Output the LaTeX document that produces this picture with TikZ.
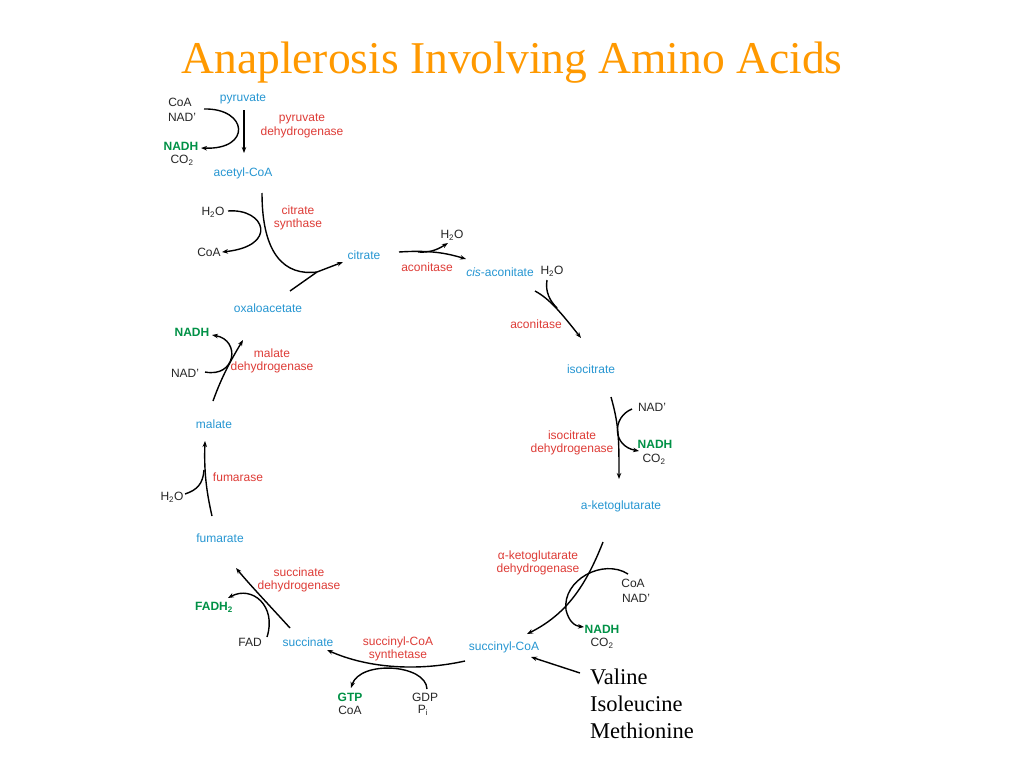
\documentclass[tikz,border=0pt]{standalone}
\usepackage{fontspec}
\setmainfont{Liberation Sans}
\newfontfamily\serifA{Liberation Serif}
\usetikzlibrary{arrows.meta}
\definecolor{metab}{RGB}{38,150,210}
\definecolor{enz}{RGB}{222,60,55}
\definecolor{cofg}{RGB}{0,145,70}
\definecolor{ttl}{RGB}{255,153,0}
\begin{document}
\begin{tikzpicture}[x=1pt,y=-1pt,
 lbl/.style={font=\fontsize{12}{13.5}\selectfont, inner sep=0pt, align=center},
 met/.style={lbl, text=metab},
 enzl/.style={lbl, text=enz},
 cof/.style={lbl, text=black!85},
 cofb/.style={lbl, text=cofg, font=\fontsize{12}{13.5}\selectfont\bfseries},
 rx/.style={line width=1.4pt, -{Stealth[length=6pt,width=4.5pt]}},
 rl/.style={line width=1.4pt}]
\useasboundingbox[fill=white] (0,0) rectangle (1024,768);

% title
\node[text=ttl, font=\serifA\fontsize{45.5}{48}\selectfont, inner sep=0pt] (title) at (512,63) {Anaplerosis Involving Amino Acids};

% metabolites
\node[met] (pyr) at (243,99) {pyruvate};
\node[met] (acoa) at (243,173) {acetyl-CoA};
\node[met] (cit) at (364,255) {citrate};
\node[met] (oaa) at (268,308) {oxaloacetate};
\node[met] (cisac) at (500,272) {\textit{cis}-aconitate};
\node[met] (isocit) at (591,369) {isocitrate};
\node[met] (akg) at (621,506) {a-ketoglutarate};
\node[met] (sucoa) at (504,647) {succinyl-CoA};
\node[met] (succ) at (308,642) {succinate};
\node[met] (fum) at (220,538) {fumarate};
\node[met] (mal) at (214,424) {malate};

% enzymes
\node[enzl] (pdh) at (302,126) {pyruvate\\dehydrogenase};
\node[enzl] (cs) at (298,218) {citrate\\synthase};
\node[enzl] (acon1) at (427,267) {aconitase};
\node[enzl] (acon2) at (536,324) {aconitase};
\node[enzl] (icdh) at (572,443) {isocitrate\\dehydrogenase};
\node[enzl] (akgdh) at (538,563) {α-ketoglutarate\\dehydrogenase};
\node[enzl] (scs) at (398,649) {succinyl-CoA\\synthetase};
\node[enzl] (sdh) at (299,580) {succinate\\dehydrogenase};
\node[enzl] (fumase) at (238,477) {fumarase};
\node[enzl] (mdh) at (272,361) {malate\\dehydrogenase};

% cofactors
\node[cof] (coa1) at (180,102) {CoA};
\node[cof] (nad1) at (182,117) {NAD'};
\node[cofb] (nadh1) at (181,146) {NADH};
\node[cof] (co21) at (182,160) {CO\textsubscript{2}};
\node[cof] (h2o1) at (213,212) {H\textsubscript{2}O};
\node[cof] (coa2) at (209,252) {CoA};
\node[cof] (h2o2) at (452,235) {H\textsubscript{2}O};
\node[cof] (h2o3) at (552,271) {H\textsubscript{2}O};
\node[cof] (nad2) at (652,407) {NAD'};
\node[cofb] (nadh2) at (655,444) {NADH};
\node[cof] (co22) at (654,459) {CO\textsubscript{2}};
\node[cof] (coa3) at (633,583) {CoA};
\node[cof] (nad3) at (636,598) {NAD'};
\node[cofb] (nadh3) at (602,629) {NADH};
\node[cof] (co23) at (602,643) {CO\textsubscript{2}};
\node[cofb] (gtp) at (350,697) {GTP};
\node[cof] (coa4) at (350,710) {CoA};
\node[cof] (gdp) at (425,697) {GDP};
\node[cof] (pi) at (423,710) {P\textsubscript{i}};
\node[cof] (fad) at (250,642) {FAD};
\node[cofb] (fadh) at (214,607) {FADH\textsubscript{2}};
\node[cof] (h2o4) at (172,497) {H\textsubscript{2}O};
\node[cof] (nad4) at (185,373) {NAD'};
\node[cofb] (nadh4) at (192,332) {NADH};

% amino acids
\node[font=\serifA\fontsize{22.5}{27}\selectfont, inner sep=0pt, align=left, anchor=west] (aa) at (590,704) {Valine\\Isoleucine\\Methionine};

% ---- connectors ----
% pyruvate dehydrogenase
\coordinate (pA) at (244,110); \coordinate (pB) at (244,153);
\draw[rx] (pA) -- (pB);
\coordinate (pC) at (204,109); \coordinate (pD) at (201,148);
\draw[rx] (pC) .. controls (248,108) and (252,150) .. (pD);

% citrate synthase
\coordinate (cA) at (262,193); \coordinate (cM) at (317,272); \coordinate (cB) at (343,262);
\coordinate (cO) at (290,291);
\draw[rx] (cA) .. controls (262,255) and (285,276) .. (cM) -- (cB);
\draw[rl] (cO) -- (cM);
\coordinate (cH) at (228,211); \coordinate (cC) at (222,252);
\draw[rx] (cH) .. controls (265,208) and (279,246) .. (cC);

% aconitase 1
\coordinate (a1A) at (399,252); \coordinate (a1B) at (466,259);
\coordinate (a1C) at (418,252); \coordinate (a1D) at (448,243);
\draw[rx] (a1A) .. controls (430,250) and (446,253) .. (a1B);
\draw[rx] (a1C) .. controls (432,253) and (440,248) .. (a1D);

% aconitase 2
\coordinate (a2A) at (535,291); \coordinate (a2B) at (581,338);
\coordinate (a2H) at (547,280); \coordinate (a2M) at (557,308);
\draw[rx] (a2A) .. controls (550,299) and (562,314) .. (a2B);
\draw[rl] (a2H) .. controls (545,292) and (550,301) .. (a2M);

% isocitrate dehydrogenase
\coordinate (iA) at (611,397); \coordinate (iB) at (619,479);
\draw[rx] (iA) .. controls (619,425) and (619,440) .. (iB);
\coordinate (iN) at (632,409); \coordinate (iD) at (639,451);
\draw[rx] (iN) .. controls (612,417) and (612,446) .. (iD);

% alpha-ketoglutarate dehydrogenase
\coordinate (kA) at (603,542); \coordinate (kB) at (527,634);
\draw[rx] (kA) .. controls (585,588) and (565,615) .. (kB);
\coordinate (kC) at (628,574); \coordinate (kK) at (566,610); \coordinate (kD) at (584,627);
\draw[rx] (kC) .. controls (603,558) and (562,580) .. (kK) .. controls (569,622) and (575,626) .. (kD);

% amino acid entry
\coordinate (vA) at (580,673); \coordinate (vB) at (531,657);
\draw[rx] (vA) -- (vB);

% succinyl-CoA synthetase
\coordinate (sA) at (465,661); \coordinate (sB) at (327,650);
\draw[rx] (sA) .. controls (420,671) and (370,669) .. (sB);
\coordinate (sG) at (427,689); \coordinate (sT) at (351,688);
\draw[rx] (sG) .. controls (426,664) and (360,660) .. (sT);

% succinate dehydrogenase
\coordinate (dA) at (290,628); \coordinate (dB) at (236,568);
\draw[rx] (dA) .. controls (270,606) and (250,585) .. (dB);
\coordinate (dF) at (267,637); \coordinate (dH) at (228,598);
\draw[rx] (dF) .. controls (277,606) and (252,585) .. (dH);

% fumarase
\coordinate (fA) at (212,516); \coordinate (fB) at (205,441);
\draw[rx] (fA) .. controls (206,490) and (204,470) .. (fB);
\coordinate (fH) at (185,494); \coordinate (fM) at (204,470);
\draw[rl] (fH) .. controls (197,490) and (203,484) .. (fM);

% malate dehydrogenase
\coordinate (mA) at (213,401); \coordinate (mB) at (243,340);
\draw[rx] (mA) .. controls (222,376) and (231,360) .. (mB);
\coordinate (mN) at (205,372); \coordinate (mD) at (212,335);
\draw[rx] (mN) .. controls (236,378) and (241,340) .. (mD);
\end{tikzpicture}
\end{document}
